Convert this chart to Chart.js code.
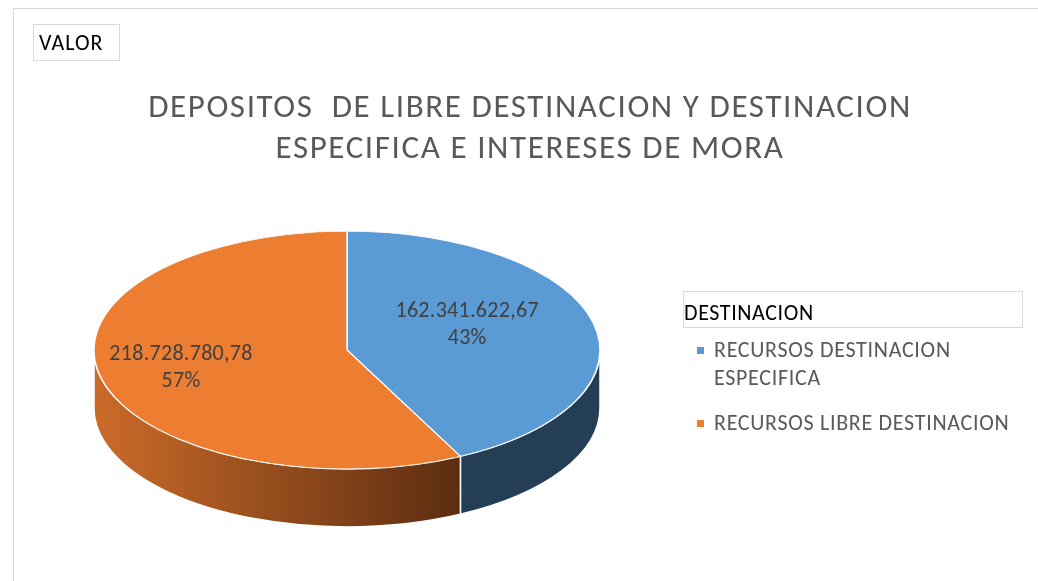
<!DOCTYPE html>
<html lang="es">
<head>
<meta charset="utf-8">
<title>Depositos</title>
<script src="https://cdn.jsdelivr.net/npm/chart.js@4.4.1/dist/chart.umd.min.js"></script>
<style>
    html, body { margin: 0; padding: 0; background: #fff; }
    body {
        width: 1038px; height: 581px; position: relative; overflow: hidden;
        font-family: Carlito, Calibri, Lato, "Open Sans", sans-serif;
    }
    #frame {
        position: absolute; left: 13px; top: 8px; width: 1060px; height: 620px;
        border: 1.5px solid #d9d9d9; box-sizing: border-box;
    }
    #chartBox { position: absolute; left: 0; top: 0; width: 1038px; height: 581px; }
    #valor {
        position: absolute; left: 33px; top: 24px; width: 87px; height: 37px;
        border: 1.5px solid #d9d9d9; box-sizing: border-box;
        font-size: 22px; line-height: 36px; padding-left: 5px; color: #000;
        letter-spacing: 1px;
    }
    #title {
        position: absolute; left: 80px; top: 86px; width: 900px;
        text-align: center; color: #595959; font-size: 33px; line-height: 41px;
        white-space: pre; letter-spacing: 1.6px;
    }
    #legendTitle {
        position: absolute; left: 683px; top: 291px; width: 340px; height: 37px;
        border: 1.5px solid #d9d9d9; box-sizing: border-box;
        font-size: 22px; line-height: 42px; color: #000; padding-left: 0;
        letter-spacing: 0.6px;
    }
    #legend { position: absolute; left: 697px; top: 336px; width: 340px; }
    .item {
        position: relative; padding-left: 17px; color: #595959; font-size: 22px;
        line-height: 28px; margin-bottom: 17px; letter-spacing: 0.7px;
    }
    .item i { position: absolute; left: 0; top: 11px; width: 7px; height: 7px; }
    .dlabel {
        position: absolute; color: #404040; font-size: 22px; line-height: 27px;
        text-align: center; white-space: nowrap; transform: translate(-50%, -50%);
        letter-spacing: 0.3px;
    }
</style>
</head>
<body>
<div id="frame"></div>
<div id="chartBox"><canvas id="pieChart"></canvas></div>
<div id="valor">VALOR</div>
<div id="title"></div>
<div id="legendTitle">DESTINACION</div>
<div id="legend"></div>

<script>
const chartTitle = ["DEPOSITOS  DE LIBRE DESTINACION Y DESTINACION", "ESPECIFICA E INTERESES DE MORA"];
const categories = ["RECURSOS DESTINACION ESPECIFICA", "RECURSOS LIBRE DESTINACION"];
const legendLines = [["RECURSOS DESTINACION", "ESPECIFICA"], ["RECURSOS LIBRE DESTINACION"]];
const values = [162341622.67, 218728780.78];
const topColors = ["#5b9bd5", "#ed7d31"];

function formatNumber(n) {
    const parts = n.toFixed(2).split(".");
    return parts[0].replace(/\B(?=(\d{3})+(?!\d))/g, ".") + "," + parts[1];
}

document.getElementById("title").textContent = chartTitle.join("\n");

const legendEl = document.getElementById("legend");
legendLines.forEach(function (lines, i) {
    const div = document.createElement("div");
    div.className = "item";
    div.innerHTML = '<i style="background:' + topColors[i] + '"></i>' + lines.join("<br>");
    legendEl.appendChild(div);
});

// 3D look: squash the pie vertically and paint the side wall under the front half
const pie3d = {
    id: "pie3d",
    beforeDatasetsDraw(chart, args, opts) {
        const arcs = chart.getDatasetMeta(0).data;
        if (!arcs.length) return;
        const cx = arcs[0].x, cy = arcs[0].y, r = arcs[0].outerRadius;
        const ry = r * opts.tilt;
        const ctx = chart.ctx;
        ctx.save();

        arcs.forEach(function (arc, i) {
            const s = Math.max(arc.startAngle, 0);
            const e = Math.min(arc.endAngle, Math.PI);
            if (e <= s) return;
            let fill = opts.wallColors[i];
            if (Array.isArray(fill)) {
                const xa = cx + r * Math.cos(s), xb = cx + r * Math.cos(e);
                const g = ctx.createLinearGradient(Math.min(xa, xb), 0, Math.max(xa, xb), 0);
                g.addColorStop(0, fill[0]);
                g.addColorStop(1, fill[1]);
                fill = g;
            }
            ctx.beginPath();
            ctx.ellipse(cx, cy, r, ry, 0, s, e);
            ctx.ellipse(cx, cy + opts.depth, r, ry, 0, e, s, true);
            ctx.closePath();
            ctx.fillStyle = fill;
            ctx.fill();
            ctx.lineWidth = 1.5;
            ctx.strokeStyle = "#ffffff";
            ctx.stroke();
        });

        ctx.translate(cx, cy);
        ctx.scale(1, opts.tilt);
        ctx.translate(-cx, -cy);
    },
    afterDatasetsDraw(chart) {
        chart.ctx.restore();
    },
    afterDraw(chart, args, opts) {
        const arcs = chart.getDatasetMeta(0).data;
        if (!arcs.length) return;
        const cx = arcs[0].x, cy = arcs[0].y, r = arcs[0].outerRadius;
        const ry = r * opts.tilt;
        const total = values.reduce(function (a, b) { return a + b; }, 0);
        document.querySelectorAll(".dlabel").forEach(function (el) { el.remove(); });
        values.forEach(function (v, i) {
            const pos = opts.labelAt[i];
            const el = document.createElement("div");
            el.className = "dlabel";
            el.innerHTML = formatNumber(v) + "<br>" + Math.round(v / total * 100) + "%";
            el.style.left = (cx + pos[0] * r) + "px";
            el.style.top = (cy + pos[1] * ry) + "px";
            document.body.appendChild(el);
        });
    }
};

const ctx = document.getElementById("pieChart").getContext("2d");
new Chart(ctx, {
    type: "pie",
    data: {
        labels: categories,
        datasets: [{
            data: values,
            backgroundColor: topColors,
            borderColor: "#ffffff",
            borderWidth: 1.5,
            clip: false
        }]
    },
    options: {
        responsive: true,
        maintainAspectRatio: false,
        animation: false,
        events: [],
        radius: 253,
        rotation: 0,
        layout: { padding: { left: 0, right: 344, top: 119, bottom: 0 } },
        plugins: {
            legend: { display: false },
            tooltip: { enabled: false },
            pie3d: {
                tilt: 0.47,
                depth: 58,
                wallColors: ["#243e55", ["#cb6b29", "#5c2d10"]],
                labelAt: [[0.475, -0.23], [-0.656, 0.134]]
            }
        }
    },
    plugins: [pie3d]
});
</script>
</body>
</html>
